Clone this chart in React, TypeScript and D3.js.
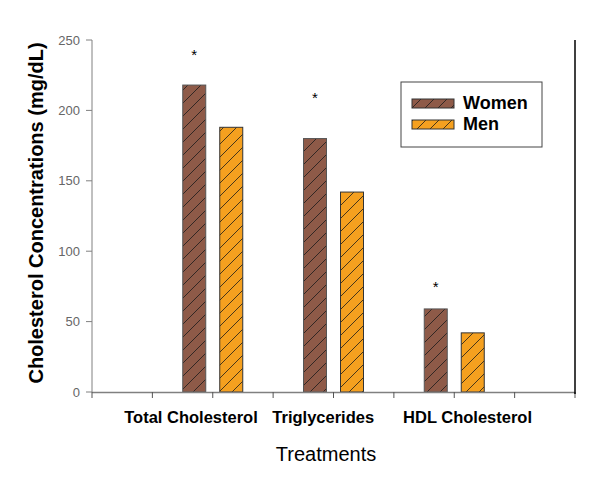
import React from "react";
import * as d3 from "d3";

const categories = ["Total Cholesterol", "Triglycerides", "HDL Cholesterol"];
const categoryPos = [2, 4, 6];
const labelPos = [1.64, 3.83, 6.22];
const women = [218, 180, 59];
const men = [188, 142, 42];
const significant = [true, true, true];
const yTicks = [0, 50, 100, 150, 200, 250];
const xTicks = [0, 1, 2, 3, 4, 5, 6, 7, 8];
const seriesNames = ["Women", "Men"];

const W = 600, H = 480;
const left = 92, right = 575, top = 40, bottom = 392;

export default function App() {
  const x = d3.scaleLinear().domain([0, 8]).range([left, right]);
  const y = d3.scaleLinear().domain([0, 250]).range([bottom, top]);
  const barW = 23;
  const colors = ["#8E5A48", "#F5A01F"];
  const strokes = ["#555555", "#333333"];
  const font = "Arial, 'Liberation Sans', sans-serif";
  const series = [women, men];
  const starOffset = [32, 43, 24];
  const P = 13;

  return (
    <svg width={W} height={H} style={{ position: "absolute", left: 0, top: 0, background: "#fff" }} fontFamily={font}>
      <defs>
        {colors.map((c, i) => (
          <pattern key={i} id={`hatch${i}`} patternUnits="userSpaceOnUse" width={P} height={P}>
            <rect width={P} height={P} fill={c} />
            <path d={`M-1,1 L1,-1 M0,${P} L${P},0 M${P - 1},${P + 1} L${P + 1},${P - 1}`} stroke="#1a1a1a" strokeWidth={0.8} />
          </pattern>
        ))}
      </defs>
      <rect width={W} height={H} fill="#fff" />
      {categories.map((cat, ci) => {
        const cx = x(categoryPos[ci]);
        return (
          <g key={cat}>
            {series.map((s, si) => {
              const bx = si === 0 ? cx - 7 - barW : cx + 7;
              return (
                <rect key={si} x={bx} y={y(s[ci])} width={barW} height={bottom - y(s[ci])}
                  fill={`url(#hatch${si})`} stroke={strokes[si]} strokeWidth={1} />
              );
            })}
            {significant[ci] && (
              <text x={cx - 7 - barW / 2} y={y(women[ci]) - starOffset[ci] + 7} textAnchor="middle" fontSize={15} fill="#000">*</text>
            )}
            <text x={x(labelPos[ci])} y={423} textAnchor="middle" fontSize={16.5} fontWeight="bold" fill="#000">{cat}</text>
          </g>
        );
      })}
      <line x1={left} x2={left} y1={top} y2={bottom} stroke="#808080" strokeWidth={1} />
      {yTicks.map((t) => (
        <g key={t}>
          <line x1={left - 6} x2={left} y1={y(t)} y2={y(t)} stroke="#808080" />
          <text x={80} y={y(t) + 4.5} textAnchor="end" fontSize={13} fill="#666">{t}</text>
        </g>
      ))}
      <line x1={left} x2={right} y1={bottom + 0.5} y2={bottom + 0.5} stroke="#808080" strokeWidth={1.5} />
      {xTicks.map((t) => (
        <line key={t} x1={x(t)} x2={x(t)} y1={bottom} y2={bottom + 6} stroke="#555" />
      ))}
      <line x1={right} x2={right} y1={top} y2={bottom + 2} stroke="#000" strokeWidth={1.5} />
      <text transform={`translate(43,${213}) rotate(-90)`} textAnchor="middle" fontSize={20} fontWeight="bold" fill="#000">Cholesterol Concentrations (mg/dL)</text>
      <text x={326} y={461} textAnchor="middle" fontSize={20} fill="#000">Treatments</text>
      <rect x={401} y={82} width={141} height={65} fill="#fff" stroke="#444" strokeWidth={1} />
      {seriesNames.map((n, i) => (
        <g key={n}>
          <rect x={412} y={99 + i * 21} width={42} height={9} fill={`url(#hatch${i})`} stroke="#333" strokeWidth={1} />
          <text x={463} y={109 + i * 21} fontSize={18} fontWeight="bold" fill="#000">{n}</text>
        </g>
      ))}
    </svg>
  );
}
